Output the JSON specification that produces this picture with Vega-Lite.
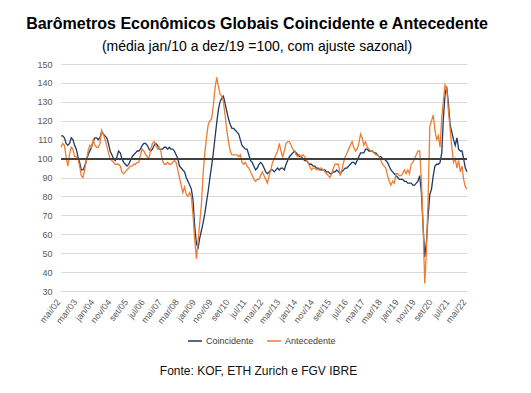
{
  "$schema": "https://vega.github.io/schema/vega-lite/v6.json",
  "width": 406,
  "height": 227,
  "autosize": {"type": "none"},
  "padding": {"left": 61, "top": 64, "right": 64, "bottom": 102},
  "background": "white",
  "title": {
    "text": "Barômetros Econômicos Globais Coincidente e Antecedente",
    "subtitle": "(média jan/10 a dez/19 =100, com ajuste sazonal)",
    "anchor": "middle",
    "frame": "group",
    "dx": -7,
    "offset": 6,
    "font": "Liberation Sans",
    "fontSize": 16,
    "fontWeight": "bold",
    "color": "#000000",
    "subtitleFont": "Liberation Sans",
    "subtitleFontSize": 14,
    "subtitleColor": "#000000",
    "subtitlePadding": 8
  },
  "data": {
    "values": [
      {"d":"2002-05","C":112,"A":106},{"d":"2002-06","C":112,"A":108},{"d":"2002-07","C":111,"A":107},{"d":"2002-08","C":108,"A":101},{"d":"2002-09","C":107,"A":96},{"d":"2002-10","C":108,"A":102},{"d":"2002-11","C":111,"A":106},{"d":"2002-12","C":110,"A":105},
      {"d":"2003-01","C":107,"A":101},{"d":"2003-02","C":105,"A":101},{"d":"2003-03","C":101,"A":100},{"d":"2003-04","C":98,"A":96},{"d":"2003-05","C":94,"A":91},{"d":"2003-06","C":94,"A":90},{"d":"2003-07","C":96,"A":94},{"d":"2003-08","C":99,"A":99},{"d":"2003-09","C":102,"A":104},{"d":"2003-10","C":104,"A":107},{"d":"2003-11","C":106,"A":106},{"d":"2003-12","C":109,"A":110},
      {"d":"2004-01","C":111,"A":107},{"d":"2004-02","C":111,"A":106},{"d":"2004-03","C":110,"A":106},{"d":"2004-04","C":111,"A":108},{"d":"2004-05","C":114,"A":115},{"d":"2004-06","C":113,"A":113},{"d":"2004-07","C":112,"A":110},{"d":"2004-08","C":111,"A":107},{"d":"2004-09","C":108,"A":103},{"d":"2004-10","C":104,"A":100},{"d":"2004-11","C":102,"A":99},{"d":"2004-12","C":100,"A":98},
      {"d":"2005-01","C":99,"A":97},{"d":"2005-02","C":101,"A":97},{"d":"2005-03","C":104,"A":97},{"d":"2005-04","C":103,"A":96},{"d":"2005-05","C":100,"A":93},{"d":"2005-06","C":98,"A":92},{"d":"2005-07","C":97,"A":93},{"d":"2005-08","C":96,"A":94},{"d":"2005-09","C":97,"A":95},{"d":"2005-10","C":99,"A":96},{"d":"2005-11","C":101,"A":96},{"d":"2005-12","C":102,"A":97},
      {"d":"2006-01","C":103,"A":97},{"d":"2006-02","C":104,"A":98},{"d":"2006-03","C":104,"A":98},{"d":"2006-04","C":105,"A":102},{"d":"2006-05","C":107,"A":105},{"d":"2006-06","C":108,"A":104},{"d":"2006-07","C":108,"A":102},{"d":"2006-08","C":107,"A":101},{"d":"2006-09","C":105,"A":100},{"d":"2006-10","C":104,"A":105},{"d":"2006-11","C":105,"A":108},{"d":"2006-12","C":107,"A":109},
      {"d":"2007-01","C":108,"A":107},{"d":"2007-02","C":107,"A":105},{"d":"2007-03","C":105,"A":106},{"d":"2007-04","C":105,"A":104},{"d":"2007-05","C":105,"A":99},{"d":"2007-06","C":106,"A":97},{"d":"2007-07","C":106,"A":97},{"d":"2007-08","C":105,"A":98},{"d":"2007-09","C":106,"A":97},{"d":"2007-10","C":105,"A":97},{"d":"2007-11","C":105,"A":98},{"d":"2007-12","C":104,"A":99},
      {"d":"2008-01","C":102,"A":98},{"d":"2008-02","C":100,"A":94},{"d":"2008-03","C":96,"A":90},{"d":"2008-04","C":95,"A":86},{"d":"2008-05","C":94,"A":82},{"d":"2008-06","C":93,"A":85},{"d":"2008-07","C":90,"A":81},{"d":"2008-08","C":88,"A":80},{"d":"2008-09","C":86,"A":82},{"d":"2008-10","C":84,"A":80},{"d":"2008-11","C":78,"A":70},{"d":"2008-12","C":64,"A":57},
      {"d":"2009-01","C":55,"A":47},{"d":"2009-02","C":53,"A":57},{"d":"2009-03","C":58,"A":66},{"d":"2009-04","C":62,"A":76},{"d":"2009-05","C":66,"A":92},{"d":"2009-06","C":71,"A":103},{"d":"2009-07","C":77,"A":111},{"d":"2009-08","C":83,"A":118},{"d":"2009-09","C":90,"A":120},{"d":"2009-10","C":96,"A":121},{"d":"2009-11","C":103,"A":128},{"d":"2009-12","C":111,"A":137},
      {"d":"2010-01","C":119,"A":143},{"d":"2010-02","C":126,"A":138},{"d":"2010-03","C":130,"A":134},{"d":"2010-04","C":132,"A":133},{"d":"2010-05","C":133,"A":130},{"d":"2010-06","C":129,"A":123},{"d":"2010-07","C":125,"A":115},{"d":"2010-08","C":121,"A":109},{"d":"2010-09","C":118,"A":104},{"d":"2010-10","C":116,"A":102},{"d":"2010-11","C":116,"A":102},{"d":"2010-12","C":115,"A":102},
      {"d":"2011-01","C":114,"A":102},{"d":"2011-02","C":113,"A":101},{"d":"2011-03","C":110,"A":102},{"d":"2011-04","C":107,"A":98},{"d":"2011-05","C":106,"A":97},{"d":"2011-06","C":105,"A":98},{"d":"2011-07","C":105,"A":96},{"d":"2011-08","C":102,"A":95},{"d":"2011-09","C":99,"A":93},{"d":"2011-10","C":98,"A":91},{"d":"2011-11","C":96,"A":89},{"d":"2011-12","C":94,"A":88},
      {"d":"2012-01","C":95,"A":89},{"d":"2012-02","C":97,"A":89},{"d":"2012-03","C":98,"A":91},{"d":"2012-04","C":97,"A":93},{"d":"2012-05","C":95,"A":91},{"d":"2012-06","C":93,"A":89},{"d":"2012-07","C":92,"A":87},{"d":"2012-08","C":93,"A":91},{"d":"2012-09","C":94,"A":94},{"d":"2012-10","C":94,"A":98},{"d":"2012-11","C":93,"A":100},{"d":"2012-12","C":94,"A":102},
      {"d":"2013-01","C":95,"A":104},{"d":"2013-02","C":94,"A":108},{"d":"2013-03","C":95,"A":104},{"d":"2013-04","C":95,"A":101},{"d":"2013-05","C":94,"A":104},{"d":"2013-06","C":97,"A":108},{"d":"2013-07","C":99,"A":109},{"d":"2013-08","C":101,"A":109},{"d":"2013-09","C":102,"A":107},{"d":"2013-10","C":103,"A":105},{"d":"2013-11","C":104,"A":104},{"d":"2013-12","C":103,"A":102},
      {"d":"2014-01","C":102,"A":101},{"d":"2014-02","C":101,"A":102},{"d":"2014-03","C":101,"A":101},{"d":"2014-04","C":100,"A":102},{"d":"2014-05","C":99,"A":101},{"d":"2014-06","C":99,"A":99},{"d":"2014-07","C":98,"A":98},{"d":"2014-08","C":97,"A":96},{"d":"2014-09","C":97,"A":94},{"d":"2014-10","C":96,"A":95},{"d":"2014-11","C":96,"A":95},{"d":"2014-12","C":95,"A":94},
      {"d":"2015-01","C":95,"A":94},{"d":"2015-02","C":94,"A":95},{"d":"2015-03","C":94,"A":95},{"d":"2015-04","C":94,"A":94},{"d":"2015-05","C":94,"A":93},{"d":"2015-06","C":93,"A":92},{"d":"2015-07","C":93,"A":91},{"d":"2015-08","C":92,"A":90},{"d":"2015-09","C":92,"A":92},{"d":"2015-10","C":93,"A":95},{"d":"2015-11","C":93,"A":97},{"d":"2015-12","C":94,"A":97},
      {"d":"2016-01","C":93,"A":97},{"d":"2016-02","C":92,"A":91},{"d":"2016-03","C":93,"A":94},{"d":"2016-04","C":94,"A":98},{"d":"2016-05","C":95,"A":101},{"d":"2016-06","C":95,"A":103},{"d":"2016-07","C":96,"A":105},{"d":"2016-08","C":97,"A":107},{"d":"2016-09","C":98,"A":109},{"d":"2016-10","C":98,"A":106},{"d":"2016-11","C":97,"A":104},{"d":"2016-12","C":99,"A":105},
      {"d":"2017-01","C":101,"A":108},{"d":"2017-02","C":103,"A":113},{"d":"2017-03","C":103,"A":111},{"d":"2017-04","C":103,"A":107},{"d":"2017-05","C":105,"A":109},{"d":"2017-06","C":105,"A":106},{"d":"2017-07","C":104,"A":105},{"d":"2017-08","C":104,"A":104},{"d":"2017-09","C":104,"A":104},{"d":"2017-10","C":103,"A":103},{"d":"2017-11","C":103,"A":102},{"d":"2017-12","C":102,"A":102},
      {"d":"2018-01","C":101,"A":101},{"d":"2018-02","C":101,"A":99},{"d":"2018-03","C":100,"A":97},{"d":"2018-04","C":100,"A":96},{"d":"2018-05","C":99,"A":95},{"d":"2018-06","C":98,"A":91},{"d":"2018-07","C":96,"A":88},{"d":"2018-08","C":94,"A":86},{"d":"2018-09","C":93,"A":88},{"d":"2018-10","C":92,"A":87},{"d":"2018-11","C":91,"A":92},{"d":"2018-12","C":90,"A":92},
      {"d":"2019-01","C":89,"A":91},{"d":"2019-02","C":89,"A":91},{"d":"2019-03","C":89,"A":92},{"d":"2019-04","C":88,"A":94},{"d":"2019-05","C":88,"A":92},{"d":"2019-06","C":87,"A":94},{"d":"2019-07","C":87,"A":92},{"d":"2019-08","C":87,"A":97},{"d":"2019-09","C":86,"A":98},{"d":"2019-10","C":86,"A":100},{"d":"2019-11","C":87,"A":102},{"d":"2019-12","C":88,"A":104},
      {"d":"2020-01","C":91,"A":104},{"d":"2020-02","C":82,"A":88},{"d":"2020-03","C":65,"A":65},{"d":"2020-04","C":48,"A":34},{"d":"2020-05","C":56,"A":51},{"d":"2020-06","C":70,"A":80},{"d":"2020-07","C":81,"A":117},{"d":"2020-08","C":84,"A":120},{"d":"2020-09","C":91,"A":123},{"d":"2020-10","C":96,"A":115},{"d":"2020-11","C":97,"A":110},{"d":"2020-12","C":97,"A":112},
      {"d":"2021-01","C":98,"A":106},{"d":"2021-02","C":103,"A":122},{"d":"2021-03","C":121,"A":130},{"d":"2021-04","C":134,"A":139},{"d":"2021-05","C":138,"A":137},{"d":"2021-06","C":129,"A":125},{"d":"2021-07","C":118,"A":116},{"d":"2021-08","C":114,"A":106},{"d":"2021-09","C":110,"A":98},{"d":"2021-10","C":107,"A":100},{"d":"2021-11","C":111,"A":95},{"d":"2021-12","C":105,"A":99},
      {"d":"2022-01","C":104,"A":93},{"d":"2022-02","C":104,"A":96},{"d":"2022-03","C":100,"A":89},{"d":"2022-04","C":95,"A":85},{"d":"2022-05","C":93,"A":84}
    ]
  },
  "layer": [
    {
      "transform": [{"fold": ["C", "A"], "as": ["serie", "valor"]}],
      "mark": {"type": "line", "strokeWidth": 1.3, "interpolate": "linear"},
      "encoding": {
        "x": {
          "field": "d",
          "type": "temporal",
          "scale": {
            "type": "utc",
            "domain": [{"year": 2002, "month": 5, "date": 1, "utc": true}, {"year": 2022, "month": 5, "date": 1, "utc": true}],
            "nice": false
          },
          "axis": {
            "values": [
              {"year": 2002, "month": 5, "date": 1, "utc": true},
              {"year": 2003, "month": 3, "date": 1, "utc": true},
              {"year": 2004, "month": 1, "date": 1, "utc": true},
              {"year": 2004, "month": 11, "date": 1, "utc": true},
              {"year": 2005, "month": 9, "date": 1, "utc": true},
              {"year": 2006, "month": 7, "date": 1, "utc": true},
              {"year": 2007, "month": 5, "date": 1, "utc": true},
              {"year": 2008, "month": 3, "date": 1, "utc": true},
              {"year": 2009, "month": 1, "date": 1, "utc": true},
              {"year": 2009, "month": 11, "date": 1, "utc": true},
              {"year": 2010, "month": 9, "date": 1, "utc": true},
              {"year": 2011, "month": 7, "date": 1, "utc": true},
              {"year": 2012, "month": 5, "date": 1, "utc": true},
              {"year": 2013, "month": 3, "date": 1, "utc": true},
              {"year": 2014, "month": 1, "date": 1, "utc": true},
              {"year": 2014, "month": 11, "date": 1, "utc": true},
              {"year": 2015, "month": 9, "date": 1, "utc": true},
              {"year": 2016, "month": 7, "date": 1, "utc": true},
              {"year": 2017, "month": 5, "date": 1, "utc": true},
              {"year": 2018, "month": 3, "date": 1, "utc": true},
              {"year": 2019, "month": 1, "date": 1, "utc": true},
              {"year": 2019, "month": 11, "date": 1, "utc": true},
              {"year": 2020, "month": 9, "date": 1, "utc": true},
              {"year": 2021, "month": 7, "date": 1, "utc": true},
              {"year": 2022, "month": 5, "date": 1, "utc": true}
            ],
            "labelExpr": "['jan','fev','mar','abr','mai','jun','jul','ago','set','out','nov','dez'][utcmonth(datum.value)] + '/' + utcFormat(datum.value, '%y')",
            "grid": false,
            "domain": false,
            "ticks": false,
            "labelAngle": -52,
            "labelAlign": "right",
            "labelBaseline": "middle",
            "labelPadding": 9,
            "labelOffset": -3,
            "labelFont": "Liberation Sans",
            "labelFontSize": 9,
            "labelColor": "#595959",
            "labelOverlap": false,
            "labelFlush": false,
            "title": "Fonte: KOF, ETH Zurich e FGV IBRE",
            "titleFont": "Liberation Sans",
            "titleFontSize": 12,
            "titleFontWeight": "normal",
            "titleColor": "#111111",
            "titleX": 197,
            "titleY": 83,
            "titleAlign": "center",
            "titleBaseline": "alphabetic"
          }
        },
        "y": {
          "field": "valor",
          "type": "quantitative",
          "scale": {"domain": [30, 150], "nice": false, "zero": false},
          "axis": {
            "values": [30, 40, 50, 60, 70, 80, 90, 100, 110, 120, 130, 140, 150],
            "domain": false,
            "ticks": false,
            "grid": true,
            "labelOverlap": false,
            "labelFont": "Liberation Sans",
            "labelFontSize": 9,
            "labelColor": "#595959",
            "labelPadding": 9,
            "gridColor": "#d9d9d9",
            "gridWidth": 1,
            "title": null
          }
        },
        "color": {
          "field": "serie",
          "type": "nominal",
          "scale": {"domain": ["C", "A"], "range": ["#1f3864", "#ed7d31"]},
          "legend": {
            "title": null,
            "orient": "none",
            "direction": "horizontal",
            "legendX": 126,
            "legendY": 269,
            "symbolType": "stroke",
            "symbolSize": 196,
            "symbolStrokeWidth": 1.5,
            "labelOffset": 3,
            "columnPadding": 10,
            "labelFont": "Liberation Sans",
            "labelFontSize": 9,
            "labelColor": "#404040",
            "labelExpr": "datum.label == 'C' ? 'Coincidente' : 'Antecedente'"
          }
        }
      }
    },
    {
      "mark": {"type": "rule", "color": "#404040", "strokeWidth": 1.3},
      "encoding": {
        "y": {
          "datum": 100,
          "type": "quantitative",
          "axis": {
            "values": [30, 40, 50, 60, 70, 80, 90, 100, 110, 120, 130, 140, 150],
            "domain": false,
            "ticks": false,
            "grid": true,
            "labelOverlap": false,
            "labelFont": "Liberation Sans",
            "labelFontSize": 9,
            "labelColor": "#595959",
            "labelPadding": 9,
            "gridColor": "#d9d9d9",
            "gridWidth": 1,
            "title": null
          }
        }
      }
    }
  ],
  "config": {
    "view": {"stroke": null}
  }
}
